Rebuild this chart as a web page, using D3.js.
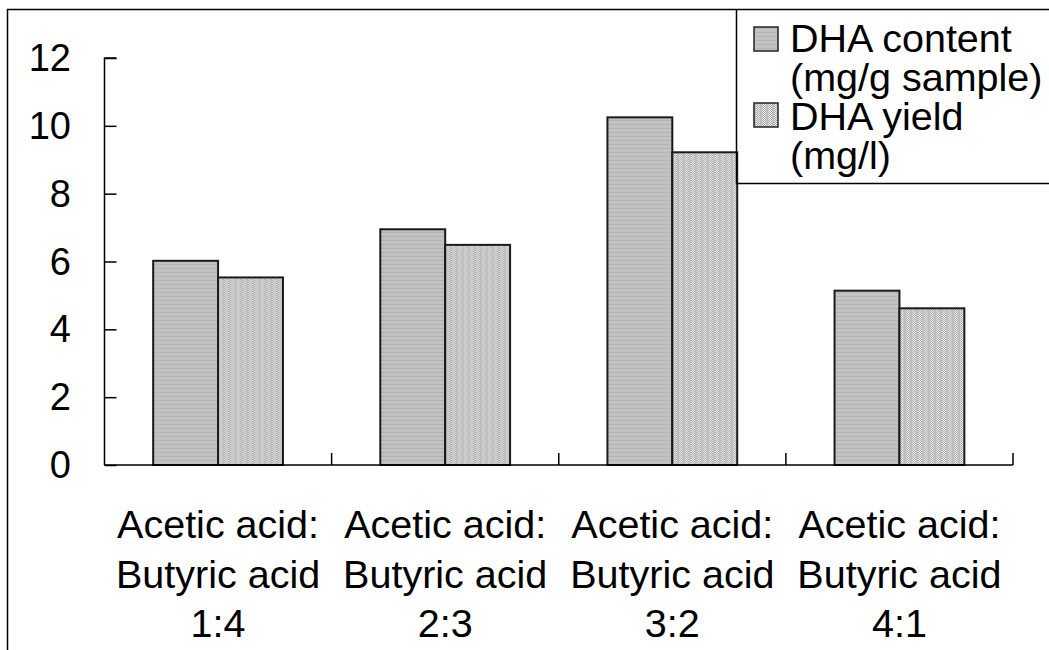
<!DOCTYPE html>
<html>
<head>
<meta charset="utf-8">
<script src="https://cdn.jsdelivr.net/npm/d3@7"></script>
<style>
  html, body { margin: 0; padding: 0; background: #fff; }
  svg { display: block; }
  text { font-family: "Liberation Sans", Arial, sans-serif; fill: #000; }
</style>
</head>
<body>
<svg id="chart" width="1049" height="650"></svg>
<script>
// Ratios of acetic acid to butyric acid in the feed
const categories = [
  ["Acetic acid:", "Butyric acid", "1:4"],
  ["Acetic acid:", "Butyric acid", "2:3"],
  ["Acetic acid:", "Butyric acid", "3:2"],
  ["Acetic acid:", "Butyric acid", "4:1"]
];
const seriesNames = [["DHA content", "(mg/g sample)"], ["DHA yield", "(mg/l)"]];
const dhaContent = [6.02, 6.95, 10.25, 5.14];
const dhaYield = [5.53, 6.49, 9.22, 4.62];
const yTicks = [0, 2, 4, 6, 8, 10, 12];

const svg = d3.select("#chart");
const defs = svg.append("defs");

// Fine grey texture for the first series
const p1 = defs.append("pattern").attr("id", "pat1")
  .attr("patternUnits", "userSpaceOnUse").attr("width", 4).attr("height", 4);
p1.append("rect").attr("width", 4).attr("height", 4).attr("fill", "#c0c0c0");
p1.append("rect").attr("y", 0).attr("width", 4).attr("height", 1).attr("fill", "#b6b6b6");
p1.append("rect").attr("x", 1).attr("y", 2).attr("width", 2).attr("height", 1).attr("fill", "#c9c9c9");

// Checkered texture for the second series
const p2 = defs.append("pattern").attr("id", "pat2")
  .attr("patternUnits", "userSpaceOnUse").attr("width", 6).attr("height", 2);
p2.append("rect").attr("width", 6).attr("height", 2).attr("fill", "#f2f2f2");
[[0, 0], [1, 1], [2, 0], [3, 1]].forEach(([px, py]) => {
  p2.append("rect").attr("x", px).attr("y", py).attr("width", 1).attr("height", 1).attr("fill", "#a4a4a4");
});
p2.append("rect").attr("x", 4).attr("y", 0).attr("width", 2).attr("height", 2).attr("fill", "#bdbdbd");

const fills = ["url(#pat1)", "url(#pat2)"];

// Outer frame (open on the right and bottom)
svg.append("path")
  .attr("d", "M7.5,650 L7.5,9.5 L1049,9.5")
  .attr("fill", "none").attr("stroke", "#000").attr("stroke-width", 1.5);

const plot = { left: 104.5, right: 1013, top: 58, bottom: 465 };

const x0 = d3.scaleBand()
  .domain(d3.range(categories.length))
  .range([plot.left, plot.right])
  .paddingInner(0).paddingOuter(0);

const x1 = d3.scaleBand()
  .domain([0, 1])
  .range([0, x0.bandwidth()])
  .paddingOuter(0.75).paddingInner(0);

const y = d3.scaleLinear().domain([0, 12]).range([plot.bottom, plot.top]);

// Bars
const groups = svg.append("g").selectAll("g")
  .data(categories.map((c, i) => [dhaContent[i], dhaYield[i]]))
  .join("g")
  .attr("transform", (d, i) => `translate(${x0(i)},0)`);

groups.selectAll("rect")
  .data(d => d.map((v, s) => ({ v, s })))
  .join("rect")
  .attr("x", d => x1(d.s))
  .attr("y", d => y(d.v))
  .attr("width", x1.bandwidth())
  .attr("height", d => y(0) - y(d.v))
  .attr("fill", d => fills[d.s])
  .attr("stroke", "#1a1a1a")
  .attr("stroke-width", 2);

// Y axis with inward ticks
const yAxis = d3.axisRight(y).tickValues(yTicks).tickSize(12).tickFormat("");
const yg = svg.append("g").attr("transform", `translate(${plot.left},0)`).call(yAxis);
yg.select(".domain").attr("d", `M12,${plot.top}H0V${plot.bottom}`).attr("stroke-width", 1.5);
yg.selectAll(".tick line").attr("stroke-width", 1.5);

svg.append("g").selectAll("text")
  .data(yTicks)
  .join("text")
  .attr("x", 71)
  .attr("y", d => y(d) + 13)
  .attr("text-anchor", "end")
  .attr("font-size", 38)
  .text(d => d);

// X axis with upward ticks at band boundaries
const xg = svg.append("g");
xg.append("line")
  .attr("x1", plot.left).attr("x2", plot.right)
  .attr("y1", plot.bottom).attr("y2", plot.bottom)
  .attr("stroke", "#000").attr("stroke-width", 1.5);
xg.selectAll("line.tk")
  .data(d3.range(1, categories.length + 1))
  .join("line").attr("class", "tk")
  .attr("x1", i => plot.left + i * x0.bandwidth())
  .attr("x2", i => plot.left + i * x0.bandwidth())
  .attr("y1", plot.bottom).attr("y2", plot.bottom - 12)
  .attr("stroke", "#000").attr("stroke-width", 1.5);

// Category labels
const lab = svg.append("g").selectAll("text")
  .data(categories)
  .join("text")
  .attr("text-anchor", "middle")
  .attr("font-size", 39.5);
lab.each(function(lines, i) {
  const t = d3.select(this);
  lines.forEach((ln, k) => {
    t.append("tspan")
      .attr("x", x0(i) + x0.bandwidth() / 2)
      .attr("y", 538 + k * 49.5)
      .text(ln);
  });
});

// Legend
const lg = svg.append("g");
lg.append("path")
  .attr("d", "M736.5,9.5 V183.5 H1049")
  .attr("fill", "none").attr("stroke", "#000").attr("stroke-width", 1.5);
const legRows = [
  { top: 27, base: 52 },
  { top: 103, base: 130 }
];
seriesNames.forEach((nm, s) => {
  lg.append("rect")
    .attr("x", 754).attr("y", legRows[s].top)
    .attr("width", 24).attr("height", 24)
    .attr("fill", fills[s]).attr("stroke", "#222").attr("stroke-width", 1.5);
  const t = lg.append("text").attr("font-size", 39.5);
  nm.forEach((ln, k) => {
    t.append("tspan")
      .attr("x", 790)
      .attr("y", legRows[s].base + k * 38.5)
      .text(ln);
  });
});
</script>
</body>
</html>
